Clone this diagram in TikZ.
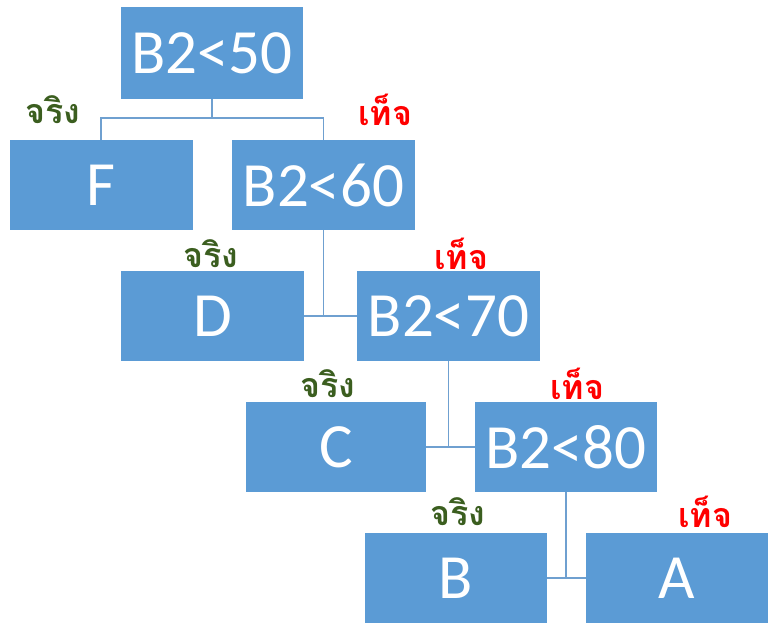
\documentclass[tikz,border=0pt]{standalone}
\usepackage{fontspec}
\setmainfont{Carlito}
\newfontfamily\thaifont[Script=Thai]{Loma}
\definecolor{boxblue}{HTML}{5B9BD5}
\definecolor{linkblue}{HTML}{6FA0D0}
\definecolor{truegreen}{HTML}{3B5E1F}
\definecolor{falsered}{HTML}{FF0000}
\begin{document}
\begin{tikzpicture}[x=1pt,y=-1pt,
  box/.style={fill=boxblue,draw=none,text=white,minimum height=90pt,inner sep=0pt,
    font=\fontsize{63}{63}\selectfont},
  link/.style={draw=linkblue,line width=1.2pt},
  truelbl/.style={text=truegreen,font=\thaifont\bfseries\fontsize{34}{36}\selectfont,inner sep=0pt},
  falselbl/.style={text=falsered,font=\thaifont\bfseries\fontsize{34}{36}\selectfont,inner sep=0pt}]
\useasboundingbox[fill=white] (0,0) rectangle (768,624);
\node[box,minimum width=182pt,minimum height=92pt] (n50) at (212,53) {B2<50};
\node[box,minimum width=183pt] (F) at (101,185) {F};
\node[box,minimum width=183pt] (n60) at (323.5,185) {B2<60};
\node[box,minimum width=183pt] (D) at (212.5,316) {D};
\node[box,minimum width=183pt] (n70) at (448.5,316) {B2<70};
\node[box,minimum width=180pt] (C) at (336,447) {C};
\node[box,minimum width=182pt] (n80) at (566,447) {B2<80};
\node[box,minimum width=182pt] (B) at (456,578) {B};
\node[box,minimum width=182pt] (A) at (677,578) {A};
\coordinate (j1) at (212,118);
\draw[link] (n50.south) -- (j1);
\draw[link] (F.north) |- (j1) -| (n60.north);
\draw[link] (D.east) -- (n70.west);
\draw[link] (n60.south) -- (n60.south |- D.east);
\draw[link] (C.east) -- (n80.west);
\draw[link] (n70.south) -- (n70.south |- C.east);
\draw[link] (B.east) -- (A.west);
\draw[link] (n80.south) -- (n80.south |- B.east);
\node[truelbl] (t1) at (53,110) {จริง};
\node[falselbl] (f1) at (385,110) {เท็จ};
\node[truelbl] (t2) at (211,254) {จริง};
\node[falselbl] (f2) at (461,254) {เท็จ};
\node[truelbl] (t3) at (328,384) {จริง};
\node[falselbl] (f3) at (577,384) {เท็จ};
\node[truelbl] (t4) at (458,512) {จริง};
\node[falselbl] (f4) at (705,512) {เท็จ};
\end{tikzpicture}
\end{document}
